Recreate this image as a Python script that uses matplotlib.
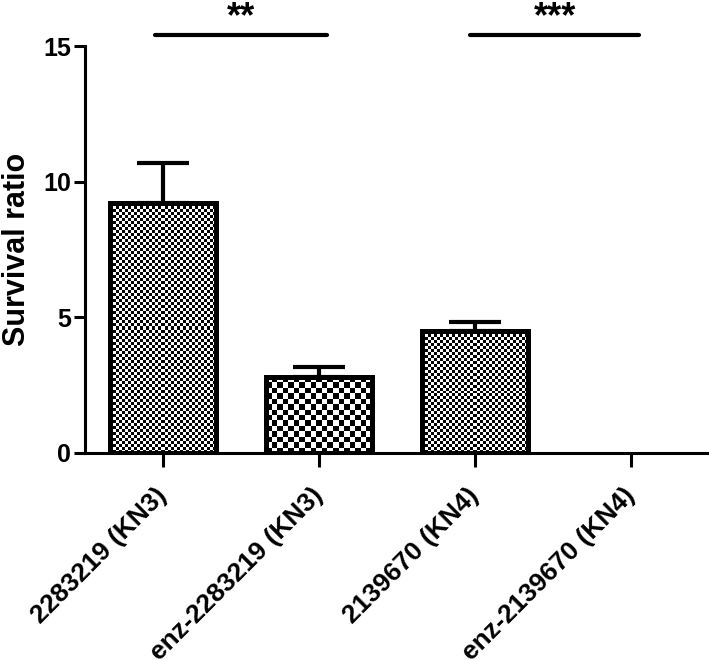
import numpy as np
import matplotlib
matplotlib.use("Agg")
import matplotlib.pyplot as plt
from matplotlib.transforms import ScaledTranslation, blended_transform_factory

# values
labels = ["2283219 (KN3)", "enz-2283219 (KN3)", "2139670 (KN4)", "enz-2139670 (KN4)"]
means = [9.2, 2.8, 4.5, 0.0]
errs = [1.5, 0.37, 0.33, 0.0]
patterns = ["fine", "coarse", "fine", "fine"]

# significance brackets: (x start, x end, text)
sig = [(-0.05, 1.05, "**"), (1.97, 3.05, "***")]

plt.rcParams["font.family"] = ["Liberation Sans", "DejaVu Sans"]
plt.rcParams["font.weight"] = "bold"

fig = plt.figure(figsize=(7.09, 6.6), dpi=100)
ax = fig.add_axes([0.12, 0.314, 0.88, 0.616])

x = np.arange(len(labels))
width = 0.675
bars = ax.bar(x, means, width, facecolor="none", edgecolor="black", linewidth=3.6, zorder=3)

# checker fill, clipped to each bar
px_x = 0.88 * 709 / 4.0    # pixels per x unit
px_y = 0.616 * 660 / 15.0  # pixels per y unit
for b, kind in zip(bars, patterns):
    h = b.get_height()
    if h <= 0:
        b.set_linewidth(0)
        continue
    cell = 3.0 if kind == "fine" else 5.5
    nx = int(round(b.get_width() * px_x / cell))
    ny = int(round(h * px_y / cell))
    checker = (np.indices((ny, nx)).sum(axis=0) % 2).astype(float)
    im = ax.imshow(checker, cmap="gray_r", interpolation="nearest", aspect="auto",
                   extent=[b.get_x(), b.get_x() + b.get_width(), 0, h], zorder=2.5,
                   vmin=0, vmax=1)
    im.set_clip_path(b)

ax.errorbar(x[:3], means[:3], yerr=[np.zeros(3), errs[:3]], fmt="none", ecolor="black",
            elinewidth=3, capsize=19, capthick=3, zorder=2)

ax.set_xlim(-0.5, 3.5)
ax.set_ylim(0, 15)

# brackets and stars above the plot area
star_tr = blended_transform_factory(ax.transData, fig.transFigure)
for x0, x1, txt in sig:
    ax.plot([x0, x1], [15.4, 15.4], color="black", lw=3, clip_on=False, solid_capstyle="round")
    ax.text((x0 + x1) / 2, 1.0, txt, transform=star_tr, ha="center", va="top",
            fontsize=26, fontweight="bold", clip_on=False)

ax.set_yticks([0, 5, 10, 15])
ax.set_xticks(x)
ax.set_xticklabels(labels, rotation=45, ha="right", va="center", rotation_mode="anchor",
                   fontsize=19, fontweight="bold")
shift = ScaledTranslation(0.17, 0, fig.dpi_scale_trans)
for lab in ax.get_xticklabels():
    lab.set_transform(lab.get_transform() + shift)
ax.tick_params(axis="y", labelsize=18, width=2.2, length=8, pad=2)
ax.tick_params(axis="x", width=2.2, length=10, pad=18)
for lab in ax.get_yticklabels():
    lab.set_fontweight("bold")
ax.set_ylabel("Survival ratio", fontsize=22, fontweight="bold", labelpad=8)

ax.spines["top"].set_visible(False)
ax.spines["right"].set_visible(False)
ax.spines["left"].set_linewidth(2.2)
ax.spines["bottom"].set_linewidth(2.2)

fig.savefig("out.png", dpi=100)
